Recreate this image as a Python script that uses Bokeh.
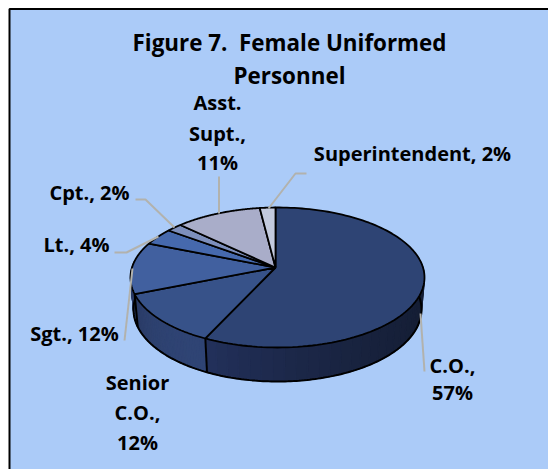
import numpy as np
from bokeh.plotting import figure
from bokeh.models import Range1d
from bokeh.core.properties import value
from bokeh.embed import file_html
from bokeh.resources import INLINE

categories = ["C.O.", "Senior C.O.", "Sgt.", "Lt.", "Cpt.", "Asst. Supt.", "Superintendent"]
values = [57, 12, 12, 4, 2, 11, 2]
top_colors = ["#2e4474", "#375289", "#41609f", "#4669ad", "#7d8fbc", "#a9adc9", "#c3cade"]
wall_colors = [("#141d33", "#22305a"), ("#2f4474", "#2a3b66"), ("#2a3b66", "#2a3b66")]

BG = "#abcbf8"
title_lines = ["Figure 7.\u00a0 Female Uniformed", "Personnel"]
title_x = [289, 289]
title_y = [42, 75]
label_lines = ["C.O.,", "57%", "Senior", "C.O.,", "12%", "Sgt., 12%", "Lt., 4%", "Cpt., 2%",
               "Asst.", "Supt.,", "11%", "Superintendent, 2%"]
label_x = [452, 452, 137, 137, 137, 74, 76, 89, 217, 217, 217, 412]
label_y = [365, 392, 382, 412, 442, 333, 244, 192, 102, 133, 162, 153]
leaders = [
    ([424, 420], [371, 313]),
    ([124, 132], [340, 268]),
    ([114, 126, 158], [252, 252, 236]),
    ([135, 145, 174], [199, 199, 227]),
    ([218.5, 218.5], [176, 213]),
    ([306, 295, 268], [173, 173, 208]),
]


def rim(t_deg, cx, cy, a, b, ax, ay):
    """Point on an ellipse reached from the apex along the ray of true angle t."""
    t = np.radians(np.asarray(t_deg, dtype=float))
    dx, dy = a * np.sin(t), -b * np.cos(t)
    ox, oy = (ax - cx) / a, (ay - cy) / b
    ux, uy = dx / a, dy / b
    A = ux ** 2 + uy ** 2
    B = 2 * (ox * ux + oy * uy)
    C = ox ** 2 + oy ** 2 - 1
    s = (-B + np.sqrt(B ** 2 - 4 * A * C)) / (2 * A)
    return ax + s * dx, ay + s * dy


TOP = dict(cx=277, cy=277, a=147, b=70, ax=275, ay=267)
LOW = dict(cx=277, cy=309, a=144, b=72, ax=275, ay=299)


def hex2rgb(h):
    return np.array([int(h[i:i + 2], 16) for i in (1, 3, 5)], dtype=float)


def mix(c1, c2, f):
    r = hex2rgb(c1) * (1 - f) + hex2rgb(c2) * f
    return "#%02x%02x%02x" % tuple(int(round(v)) for v in r)


p = figure(width=548, height=469, output_backend="svg", toolbar_location=None,
           x_range=Range1d(0, 548), y_range=Range1d(469, 0), min_border=0,
           background_fill_color="white", border_fill_color="white", outline_line_color=None)
p.axis.visible = False
p.grid.visible = False

# panel and frame
p.patch([9, 548, 548, 9], [8.5, 8.5, 469, 469], fill_color=BG, line_color=None)
p.line([9, 9, 548], [469, 8.5, 8.5], line_color="black", line_width=2)

edges = np.concatenate([[0], np.cumsum(values)]) / np.sum(values) * 360.0
WALL_START, WALL_END = 84.0, 276.0

# side walls
for i in range(3):
    t0 = max(edges[i], WALL_START)
    t1 = min(edges[i + 1], WALL_END)
    n = 30
    ts = np.linspace(t0, t1, n + 1)
    ux, uy = rim(ts, **TOP)
    lx, ly = rim(ts, **LOW)
    xs, ys, cs = [], [], []
    for k in range(n):
        xs.append([ux[k], ux[k + 1], lx[k + 1], lx[k]])
        ys.append([uy[k], uy[k + 1], ly[k + 1], ly[k]])
        cs.append(mix(wall_colors[i][0], wall_colors[i][1], (k / (n - 1)) ** 2))
    p.patches(xs, ys, fill_color=cs, line_color=cs, line_width=1.2)

# lower edge of the walls and the wall seams
ts = np.linspace(WALL_START, WALL_END, 200)
lx, ly = rim(ts, **LOW)
p.line(lx, ly, line_color="black", line_width=2)
for e in (edges[1], edges[2]):
    ux, uy = rim(e, **TOP)
    lx, ly = rim(e, **LOW)
    p.line([ux, lx], [uy, ly], line_color="black", line_width=2)

# top face
for i in range(len(values)):
    ts = np.linspace(edges[i], edges[i + 1], 120)
    x, y = rim(ts, **TOP)
    px = np.concatenate([[TOP["ax"]], x])
    py = np.concatenate([[TOP["ay"]], y])
    p.patch(px, py, fill_color=top_colors[i], line_color="black", line_width=1.8)

# leader lines
for lx, ly in leaders:
    p.line(lx, ly, line_color="#b2b2ad", line_width=2)

p.text(title_x, title_y, text=title_lines, text_font=value("Open Sans"), text_font_style="bold",
       text_font_size="22.4px", text_align="center", text_baseline="middle", text_color="black")
p.text(label_x, label_y, text=label_lines, text_font=value("Open Sans"), text_font_style="bold",
       text_font_size="20px", text_align="center", text_baseline="middle", text_color="black")

open("out.html", "w").write(file_html(p, INLINE))
